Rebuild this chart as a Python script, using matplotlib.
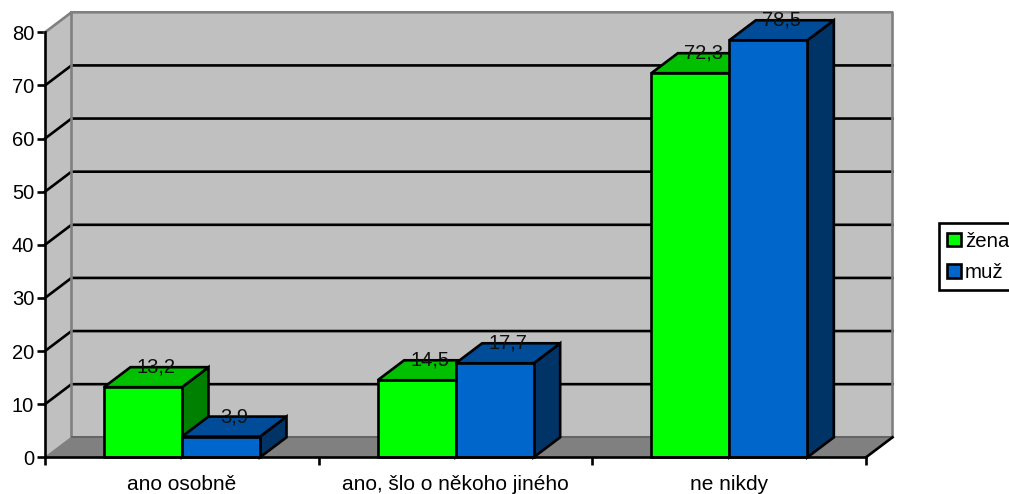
import numpy as np
import matplotlib.pyplot as plt
from matplotlib.patches import Patch

plt.rcParams['font.family'] = ['Liberation Sans', 'DejaVu Sans']

categories = ['ano osobně', 'ano, šlo o někoho jiného', 'ne nikdy']
zena = [13.2, 14.5, 72.3]
muz = [3.9, 17.7, 78.5]
zena_labels = ['13,2', '14,5', '72,3']
muz_labels = ['3,9', '17,7', '78,5']
y_ticks = [0, 10, 20, 30, 40, 50, 60, 70, 80]

W, H = 1009, 494
fig = plt.figure(figsize=(W / 100, H / 100), dpi=100)
ax = fig.add_axes([45 / W, 1 - 457.3 / H, 821 / W, 425 / H])
ax.set_xlim(0, 3)
ax.set_ylim(0, 80)

# depth of the fake 3d box, in data units
dx = 26.5 / (821 / 3)
dy = 20 / (425 / 80)
lw = 1.9
fs = 14.5

ax.fill([0, dx, dx, 0], [0, dy, 80 + dy, 80], color='#c0c0c0', lw=0, clip_on=False, zorder=1)
ax.fill([dx, 3 + dx, 3 + dx, dx], [dy, dy, 80 + dy, 80 + dy], color='#c0c0c0', lw=0, clip_on=False, zorder=1)
ax.fill([0, 3, 3 + dx, dx], [0, 0, dy, dy], facecolor='#808080', edgecolor='#808080', lw=0.5, clip_on=False, zorder=1)

# grid runs along the side wall and then across the back wall
for v in y_ticks[1:-1]:
    ax.plot([0, dx, 3 + dx], [v, v + dy, v + dy], color='black', lw=lw, clip_on=False, zorder=2,
            solid_joinstyle='miter')

wall = '#808080'
ax.plot([0, dx, 3 + dx, 3 + dx, dx, dx], [80, 80 + dy, 80 + dy, dy, dy, 80 + dy], color=wall, lw=lw,
        clip_on=False, zorder=2)
ax.plot([0, dx], [0, dy], color=wall, lw=0.8, clip_on=False, zorder=2)
ax.plot([dx, 3 + dx], [dy, dy], color='#606060', lw=1.2, clip_on=False, zorder=2)
ax.plot([3, 3 + dx], [0, dy], color='black', lw=lw, clip_on=False, zorder=2)

bar_w = 78 / (821 / 3)
start = 59 / (821 / 3)
series = [
    (zena, zena_labels, 'žena', '#00ff00', '#00c000', '#008000'),
    (muz, muz_labels, 'muž', '#0066cc', '#004c99', '#003366'),
]

z = 3
for i in range(len(categories)):
    for j, (vals, labels, name, front, top, side) in enumerate(series):
        x0 = i + start + j * bar_w
        x1 = x0 + bar_w
        v = vals[i]
        ax.fill([x1, x1 + dx, x1 + dx, x1], [0, dy, v + dy, v], facecolor=side, edgecolor='black', lw=lw,
                clip_on=False, zorder=z, joinstyle='miter')
        ax.fill([x0, x1, x1 + dx, x0 + dx], [v, v, v + dy, v + dy], facecolor=top, edgecolor='black', lw=lw,
                clip_on=False, zorder=z, joinstyle='miter')
        ax.bar(x0, v, bar_w, align='edge', color=front, edgecolor='black', lw=lw, clip_on=False, zorder=z + 0.5)
        z += 1

for i in range(len(categories)):
    for j, (vals, labels, name, front, top, side) in enumerate(series):
        xc = i + start + (j + 0.5) * bar_w + dx / 2
        ax.text(xc, vals[i] + dy, labels[i], ha='center', va='center', fontsize=fs, color='#101010',
                clip_on=False, zorder=50)

ax.spines['top'].set_visible(False)
ax.spines['right'].set_visible(False)
ax.spines['left'].set_linewidth(lw)
ax.spines['bottom'].set_linewidth(lw)
ax.spines['left'].set_zorder(40)
ax.spines['bottom'].set_zorder(40)
ax.patch.set_visible(False)

ax.set_yticks(y_ticks)
ax.set_xticks([0, 1, 2, 3])
ax.set_xticklabels([])
ax.set_xticks([0.5, 1.5, 2.5], categories, minor=True)
ax.tick_params(axis='x', which='major', length=5.8, width=lw)
ax.tick_params(axis='x', which='minor', length=0, pad=12.8, labelsize=15)
ax.tick_params(axis='y', length=5.8, width=lw, pad=2, labelsize=fs)

handles = [Patch(facecolor=s[3], edgecolor='black', lw=lw, label=s[2]) for s in series]
fig.legend(handles=handles, loc='upper left', bbox_to_anchor=(938.5 / W, 1 - 223 / H), ncol=1,
           fontsize=14.7, frameon=True, fancybox=False, framealpha=1, edgecolor='black',
           handlelength=0.66, handleheight=0.66, handletextpad=0.2, borderpad=0.42, labelspacing=0.6,
           borderaxespad=0).get_frame().set_linewidth(lw)

plt.savefig('out.png', dpi=100)
